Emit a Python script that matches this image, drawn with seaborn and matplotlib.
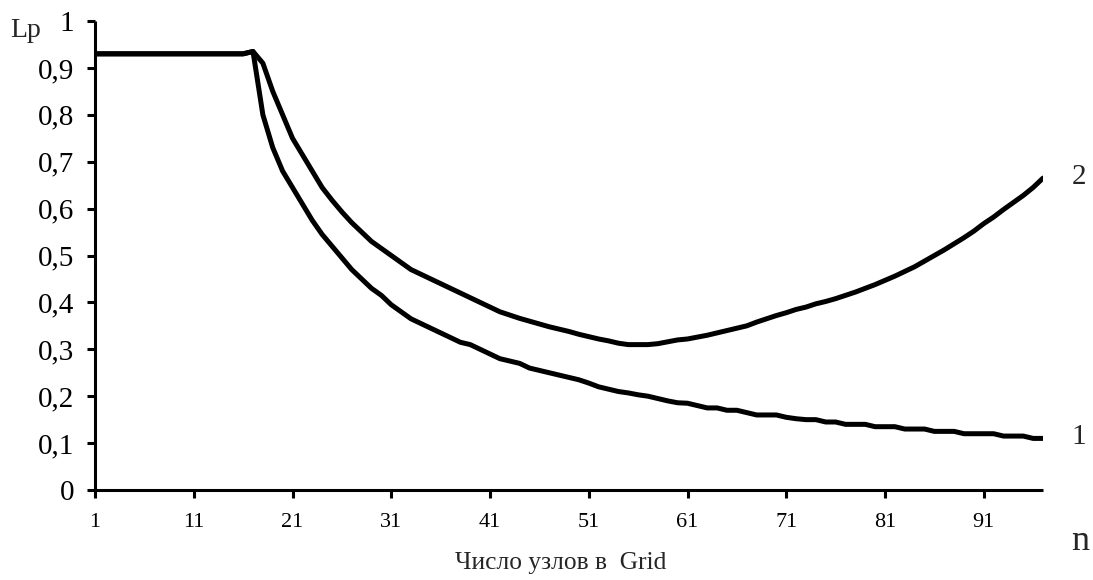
import numpy as np
import pandas as pd
import matplotlib
matplotlib.use("Agg")
import matplotlib.pyplot as plt
import seaborn as sns
from matplotlib.ticker import FuncFormatter

# number of grid nodes
n_nodes = list(range(1, 98))

# curve 1 (lower)
lp_curve1 = [0.93] * 16 + [
    0.935, 0.80, 0.73, 0.68, 0.645, 0.61, 0.575, 0.545, 0.52, 0.495,
    0.47, 0.45, 0.43, 0.415, 0.395, 0.38, 0.365, 0.355, 0.345, 0.335,
    0.325, 0.315, 0.31, 0.30, 0.29, 0.28, 0.275, 0.27, 0.26, 0.255,
    0.25, 0.245, 0.24, 0.235, 0.228, 0.22, 0.215, 0.21, 0.207, 0.203,
    0.20, 0.195, 0.19, 0.186, 0.185, 0.18, 0.175, 0.175, 0.17, 0.17,
    0.165, 0.16, 0.16, 0.16, 0.155, 0.152, 0.15, 0.15, 0.145, 0.145,
    0.14, 0.14, 0.14, 0.135, 0.135, 0.135, 0.13, 0.13, 0.13, 0.125,
    0.125, 0.125, 0.12, 0.12, 0.12, 0.12, 0.115, 0.115, 0.115, 0.11,
    0.11,
]

# curve 2 (upper)
lp_curve2 = [0.93] * 16 + [
    0.935, 0.91, 0.85, 0.80, 0.75, 0.715, 0.68, 0.645, 0.618, 0.593,
    0.57, 0.55, 0.53, 0.515, 0.50, 0.485, 0.47, 0.46, 0.45, 0.44,
    0.43, 0.42, 0.41, 0.40, 0.39, 0.38, 0.373, 0.366, 0.36, 0.354,
    0.348, 0.343, 0.338, 0.332, 0.327, 0.322, 0.318, 0.313, 0.31, 0.31,
    0.31, 0.312, 0.316, 0.32, 0.322, 0.326, 0.33, 0.335, 0.34, 0.345,
    0.35, 0.358, 0.365, 0.372, 0.378, 0.385, 0.39, 0.397, 0.402, 0.408,
    0.415, 0.422, 0.43, 0.438, 0.447, 0.456, 0.466, 0.476, 0.488, 0.50,
    0.512, 0.525, 0.538, 0.552, 0.568, 0.582, 0.598, 0.613, 0.628, 0.645,
    0.665,
]

x_ticks = [1, 11, 21, 31, 41, 51, 61, 71, 81, 91]
y_ticks = [0, 0.1, 0.2, 0.3, 0.4, 0.5, 0.6, 0.7, 0.8, 0.9, 1.0]

df = pd.DataFrame({
    "n": n_nodes * 2,
    "Lp": lp_curve1 + lp_curve2,
    "curve": ["1"] * len(n_nodes) + ["2"] * len(n_nodes),
})

sns.set_style("ticks")
plt.rcParams["font.family"] = ["Liberation Serif", "DejaVu Serif"]

W, H = 1093, 580
fig = plt.figure(figsize=(W / 100, H / 100), dpi=100)
ax = fig.add_axes([95 / W, 1 - 490 / H, (1043 - 95) / W, (490 - 21) / H])

sns.lineplot(data=df, x="n", y="Lp", hue="curve", palette=["black", "black"],
             linewidth=3.6, legend=False, ax=ax, estimator=None,
             solid_joinstyle="round", solid_capstyle="round")

ax.set_xlim(1, 97)
ax.set_ylim(0, 1)
ax.set_xticks(x_ticks)
ax.set_yticks(y_ticks)
ax.yaxis.set_major_formatter(FuncFormatter(
    lambda v, _: "0" if v == 0 else ("1" if v == 1 else f"{v:.1f}".replace(".", ","))))

for s in ["top", "right"]:
    ax.spines[s].set_visible(False)
for s in ["left", "bottom"]:
    ax.spines[s].set_linewidth(2.2)
    ax.spines[s].set_color("black")
    ax.spines[s].set_capstyle("butt")

ax.tick_params(axis="y", length=5.8, width=2.2, labelsize=21, pad=9.4, colors="black")
ax.tick_params(axis="x", length=5.8, width=2.2, labelsize=16, pad=11, colors="black")
ax.set_xlabel("")
ax.set_ylabel("")

fig.text(10 / W, 1 - 37 / H, "Lp", fontsize=20, ha="left", va="baseline")
fig.text(1079 / W, 1 - 177 / H, "2", fontsize=21, ha="center", va="center")
fig.text(1079 / W, 1 - 437 / H, "1", fontsize=21, ha="center", va="center")
fig.text(1080 / W, 1 - 550 / H, "n", fontsize=26, ha="center", va="baseline")
fig.text(561 / W, 1 - 563 / H, "Число узлов в  Grid", fontsize=18.4,
         ha="center", va="center")

fig.savefig("out.png", dpi=100)
